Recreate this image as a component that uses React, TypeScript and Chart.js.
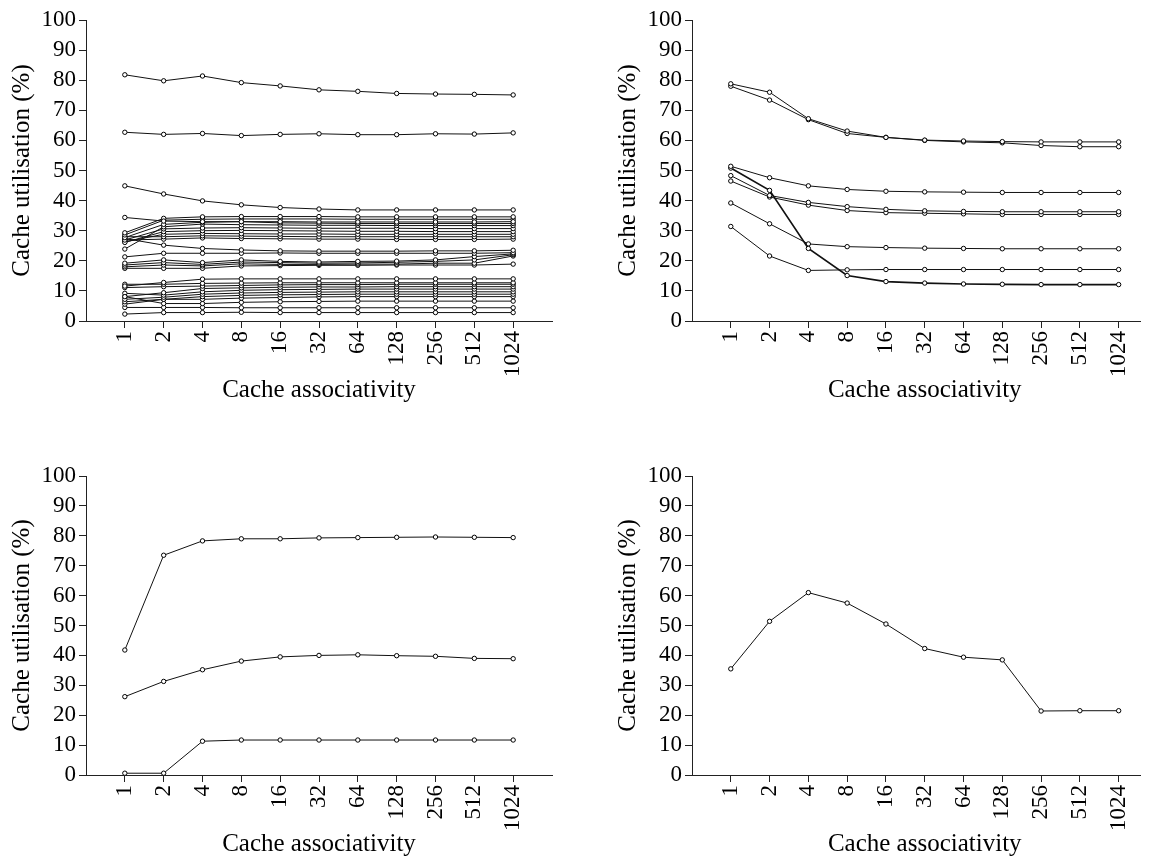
import React, { useEffect, useRef } from "react";
import { Chart, registerables } from "chart.js";

Chart.register(...registerables);

// ---------- data ----------
const associativity = ["1", "2", "4", "8", "16", "32", "64", "128", "256", "512", "1024"];
const yTickValues = [0, 10, 20, 30, 40, 50, 60, 70, 80, 90, 100];
const xTitle = "Cache associativity";
const yTitle = "Cache utilisation (%)";

// top-left panel
const tlA = [81.8, 79.8, 81.4, 79.2, 78.1, 76.8, 76.3, 75.6, 75.4, 75.3, 75.1];
const tlB = [62.7, 62.0, 62.3, 61.6, 62.0, 62.2, 61.9, 61.9, 62.2, 62.1, 62.5];
const tlC = [44.9, 42.2, 39.9, 38.6, 37.7, 37.2, 36.9, 36.9, 36.9, 36.9, 36.9];
const tlU1 = [34.4, 33.2, 33.0, 33.0, 33.0, 32.9, 32.9, 32.9, 32.9, 32.9, 33.0];
const tlU2 = [29.3, 34.1, 34.6, 34.7, 34.7, 34.7, 34.6, 34.6, 34.6, 34.6, 34.6];
const tlU3 = [28.6, 33.5, 33.8, 33.9, 33.9, 33.9, 33.8, 33.8, 33.8, 33.8, 33.8];
const tlU4 = [27.7, 32.1, 32.8, 33.0, 32.6, 32.5, 32.4, 32.4, 32.4, 32.4, 32.4];
const tlU5 = [23.9, 31.3, 32.2, 32.0, 31.9, 31.8, 31.8, 31.7, 31.7, 31.7, 31.7];
const tlU6 = [26.9, 30.6, 30.9, 31.0, 30.9, 30.8, 30.8, 30.8, 30.7, 30.7, 30.7];
const tlU7 = [26.1, 29.7, 30.0, 30.1, 30.0, 29.9, 29.8, 29.8, 29.7, 29.7, 29.7];
const tlU8 = [26.3, 28.8, 29.1, 29.0, 28.9, 28.9, 28.8, 28.8, 28.8, 28.8, 28.8];
const tlU9 = [28.0, 28.0, 28.3, 28.2, 28.1, 28.0, 28.0, 28.0, 28.0, 28.0, 28.0];
const tlU10 = [26.9, 27.2, 27.6, 27.4, 27.3, 27.2, 27.2, 27.1, 27.1, 27.1, 27.2];
const tlD = [27.4, 25.2, 24.1, 23.6, 23.3, 23.2, 23.2, 23.2, 23.3, 23.3, 23.5];
const tlE = [21.3, 22.5, 22.5, 22.5, 22.6, 22.5, 22.5, 22.5, 22.5, 22.5, 22.7];
const tlF = [19.2, 20.3, 19.4, 20.3, 19.8, 19.6, 19.8, 19.9, 20.3, 21.4, 22.3];
const tlG = [18.6, 19.4, 18.8, 19.6, 19.4, 19.2, 19.3, 19.5, 19.8, 20.3, 22.0];
const tlH = [18.0, 18.6, 18.3, 19.0, 18.8, 18.8, 18.9, 18.9, 19.2, 19.2, 21.6];
const tlI = [17.5, 17.5, 17.5, 18.3, 18.4, 18.5, 18.5, 18.6, 18.6, 18.6, 18.9];
const tlL1 = [11.6, 12.8, 13.9, 14.0, 14.0, 14.0, 14.0, 14.0, 14.0, 14.0, 14.0];
const tlL2 = [12.2, 12.2, 12.5, 12.6, 12.7, 12.7, 12.7, 12.7, 12.7, 12.7, 12.7];
const tlL3 = [11.1, 11.4, 11.6, 11.8, 12.0, 12.1, 12.1, 12.2, 12.2, 12.2, 12.2];
const tlL4 = [8.1, 9.4, 10.8, 11.0, 11.2, 11.3, 11.3, 11.4, 11.4, 11.4, 11.4];
const tlL5 = [9.2, 8.6, 9.7, 10.2, 10.4, 10.5, 10.6, 10.6, 10.6, 10.6, 10.6];
const tlL6 = [7.2, 7.9, 8.9, 9.3, 9.5, 9.6, 9.7, 9.7, 9.7, 9.7, 9.7];
const tlL7 = [6.4, 7.2, 8.1, 8.5, 8.7, 8.8, 8.9, 8.9, 8.9, 8.9, 8.9];
const tlL8 = [5.6, 7.2, 7.2, 7.6, 7.8, 8.0, 8.1, 8.1, 8.1, 8.1, 8.1];
const tlL9 = [8.1, 5.8, 5.8, 6.2, 6.4, 6.5, 6.6, 6.6, 6.6, 6.6, 6.6];
const tlL10 = [4.5, 4.5, 4.5, 4.4, 4.4, 4.4, 4.4, 4.4, 4.4, 4.4, 4.4];
const tlL11 = [2.3, 2.8, 2.8, 2.9, 2.8, 2.8, 2.8, 2.8, 2.8, 2.8, 2.8];

// top-right panel
const trR1 = [78.8, 76.0, 67.2, 63.1, 61.0, 60.1, 59.8, 59.6, 59.5, 59.5, 59.5];
const trR2 = [78.0, 73.4, 66.9, 62.3, 61.0, 60.0, 59.5, 59.2, 58.3, 57.9, 57.9];
const trR3 = [51.4, 47.6, 44.9, 43.7, 43.1, 42.9, 42.8, 42.7, 42.7, 42.7, 42.7];
const trR4 = [50.8, 43.4, 24.1, 15.1, 13.1, 12.6, 12.3, 12.2, 12.1, 12.1, 12.1];
const trR5 = [48.3, 41.7, 39.4, 38.0, 37.1, 36.6, 36.4, 36.3, 36.3, 36.3, 36.3];
const trR6 = [46.5, 41.2, 38.5, 36.7, 36.0, 35.8, 35.6, 35.4, 35.4, 35.4, 35.4];
const trR7 = [39.2, 32.3, 25.6, 24.7, 24.4, 24.2, 24.1, 24.0, 24.0, 24.0, 24.0];
const trR8 = [31.4, 21.6, 16.8, 17.0, 17.1, 17.1, 17.1, 17.1, 17.1, 17.1, 17.1];

// bottom-left panel
const blS1 = [41.8, 73.5, 78.3, 79.0, 79.0, 79.3, 79.4, 79.5, 79.6, 79.5, 79.4];
const blS2 = [26.2, 31.3, 35.2, 38.1, 39.5, 40.0, 40.2, 39.9, 39.7, 39.0, 38.9];
const blS3 = [0.6, 0.6, 11.3, 11.7, 11.7, 11.7, 11.7, 11.7, 11.7, 11.7, 11.7];

// bottom-right panel
const brT = [35.5, 51.4, 61.0, 57.5, 50.5, 42.3, 39.4, 38.5, 21.4, 21.5, 21.5];

const topLeftSeries = [
  tlA, tlB, tlC, tlU1, tlU2, tlU3, tlU4, tlU5, tlU6, tlU7, tlU8, tlU9, tlU10,
  tlD, tlE, tlF, tlG, tlH, tlI,
  tlL1, tlL2, tlL3, tlL4, tlL5, tlL6, tlL7, tlL8, tlL9, tlL10, tlL11,
];
const topRightSeries = [trR1, trR2, trR3, trR4, trR5, trR6, trR7, trR8];
const topRightWidths = [1, 1, 1, 1.7, 1, 1, 1, 1];
const bottomLeftSeries = [blS1, blS2, blS3];
const bottomRightSeries = [brT];

// ---------- styling ----------
const FONT_FAMILY = "'Liberation Serif', 'Times New Roman', serif";
const TICK_FONT_SIZE = 23;
const TITLE_FONT_SIZE = 25;
const AXIS_COLOR = "#222";

const axisTitlesPlugin = {
  id: "axisTitles",
  afterDraw(chart: any, _args: any, opts: any) {
    const { ctx, chartArea } = chart;
    const xs = chart.scales.x;
    ctx.save();
    ctx.fillStyle = "#000";
    ctx.font = `${TITLE_FONT_SIZE}px ${FONT_FAMILY}`;
    ctx.textAlign = "center";
    ctx.textBaseline = "middle";
    const cx = (xs.getPixelForValue(0) + xs.getPixelForValue(associativity.length - 1)) / 2;
    ctx.fillText(xTitle, cx, chartArea.bottom + opts.xTitleOffset);
    ctx.translate(opts.yTitleX, (chartArea.top + chartArea.bottom) / 2);
    ctx.rotate(-Math.PI / 2);
    ctx.fillText(yTitle, 0, 0);
    ctx.restore();
  },
};

type PanelProps = {
  series: number[][];
  widths?: number[];
  left: number;
  top: number;
  width: number;
  height: number;
  padTop: number;
  padRight: number;
  yAxisWidth: number;
  plotHeight: number;
  xMax: number;
  yTitleX: number;
};

function Panel(p: PanelProps) {
  const ref = useRef<HTMLCanvasElement | null>(null);
  useEffect(() => {
    if (!ref.current) return;
    const datasets = p.series.map((vals, k) => ({
      data: vals.map((v, i) => ({ x: i, y: v })),
      borderColor: "#111",
      borderWidth: p.widths ? p.widths[k] : 1,
      pointRadius: 2.2,
      pointBorderWidth: 1,
      pointBackgroundColor: "#fff",
      pointBorderColor: "#000",
      fill: false,
      tension: 0,
      clip: false as any,
    }));
    const xHeight = p.height - p.padTop - p.plotHeight;
    const chart = new Chart(ref.current, {
      type: "line",
      data: { datasets },
      plugins: [axisTitlesPlugin],
      options: {
        responsive: false,
        animation: false,
        layout: { padding: { top: p.padTop, right: p.padRight, left: 0, bottom: 0 } },
        plugins: {
          legend: { display: false },
          tooltip: { enabled: false },
          axisTitles: { xTitleOffset: 69, yTitleX: p.yTitleX },
        } as any,
        scales: {
          x: {
            type: "linear",
            min: -1,
            max: p.xMax,
            afterBuildTicks: (scale: any) => {
              scale.ticks = associativity.map((_, i) => ({ value: i }));
            },
            afterFit: (scale: any) => {
              scale.height = xHeight;
            },
            ticks: {
              autoSkip: false,
              minRotation: 90,
              maxRotation: 90,
              padding: 3,
              color: "#000",
              font: { family: FONT_FAMILY, size: TICK_FONT_SIZE },
              callback: (v: any) => associativity[Math.round(Number(v))] ?? "",
            },
            grid: {
              drawOnChartArea: false,
              drawTicks: true,
              tickLength: 7,
              color: AXIS_COLOR,
              lineWidth: 1,
            },
            border: { display: true, color: AXIS_COLOR, width: 1 },
          },
          y: {
            type: "linear",
            min: 0,
            max: 100,
            afterBuildTicks: (scale: any) => {
              scale.ticks = yTickValues.map((v) => ({ value: v }));
            },
            afterFit: (scale: any) => {
              scale.width = p.yAxisWidth;
            },
            ticks: {
              autoSkip: false,
              padding: 3,
              color: "#000",
              font: { family: FONT_FAMILY, size: TICK_FONT_SIZE },
            },
            grid: {
              drawOnChartArea: false,
              drawTicks: true,
              tickLength: 7,
              color: AXIS_COLOR,
              lineWidth: 1,
            },
            border: { display: true, color: AXIS_COLOR, width: 1 },
          },
        },
      },
    });
    return () => chart.destroy();
  }, []);
  return (
    <canvas
      ref={ref}
      width={p.width}
      height={p.height}
      style={{ position: "absolute", left: p.left, top: p.top, width: p.width, height: p.height }}
    />
  );
}

export default function App() {
  return (
    <div style={{ position: "absolute", left: 0, top: 0, width: 1153, height: 857, background: "#fff", overflow: "hidden" }}>
      <Panel series={topLeftSeries} left={0} top={0} width={576} height={428} padTop={20} padRight={24}
        yAxisWidth={86} plotHeight={301} xMax={11} yTitleX={22} />
      <Panel series={topRightSeries} widths={topRightWidths} left={576} top={0} width={577} height={428} padTop={20} padRight={13}
        yAxisWidth={116} plotHeight={301} xMax={10.55} yTitleX={52} />
      <Panel series={bottomLeftSeries} left={0} top={428} width={576} height={429} padTop={48} padRight={24}
        yAxisWidth={86} plotHeight={299} xMax={11} yTitleX={22} />
      <Panel series={bottomRightSeries} left={576} top={428} width={577} height={429} padTop={48} padRight={13}
        yAxisWidth={116} plotHeight={299} xMax={10.55} yTitleX={52} />
    </div>
  );
}
